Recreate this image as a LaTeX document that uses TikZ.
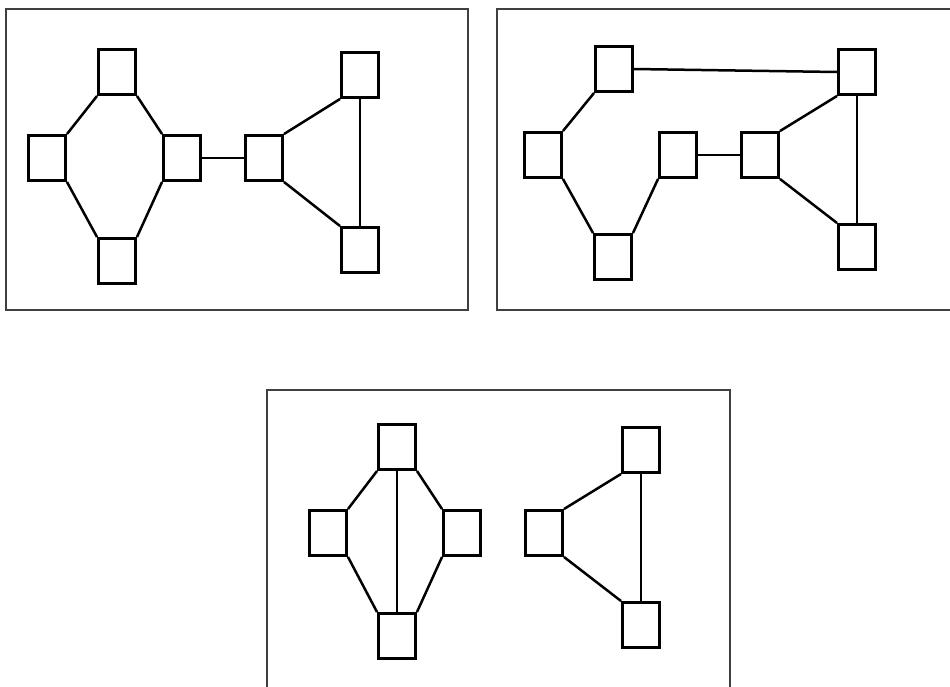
\documentclass[tikz,border=0pt]{standalone}
\begin{document}
\begin{tikzpicture}[x=1pt,y=-1pt,
  box/.style={draw=black,line width=2.9pt,rectangle,minimum width=37pt,minimum height=45pt,inner sep=0pt,fill=white},
  link/.style={draw=black,line width=2.5pt},
  frame/.style={draw=black!75,line width=2pt}]
\useasboundingbox (0,0) rectangle (950,686);
% frames
\draw[frame] (6,9) rectangle (468,310);
\draw[frame] (497,9) rectangle (956,310);
\draw[frame] (267,390) rectangle (730,692);
% panel 1
\node[box] (a1) at (117,72) {};
\node[box] (a2) at (47,158) {};
\node[box] (a3) at (182,158) {};
\node[box] (a4) at (117,261) {};
\node[box] (a5) at (264,158) {};
\node[box] (a6) at (360,75) {};
\node[box] (a7) at (360,250) {};
\draw[link] (a1.south west) -- (a2.north east);
\draw[link] (a1.south east) -- (a3.north west);
\draw[link] (a2.south east) -- (a4.north west);
\draw[link] (a3.south west) -- (a4.north east);
\draw[link] (a3.east) -- (a5.west);
\draw[link] (a5.north east) -- (a6.south west);
\draw[link] (a5.south east) -- (a7.north west);
\draw[link] (a6.south) -- (a7.north);
% panel 2
\node[box] (b1) at (614,69) {};
\node[box] (b2) at (543,155) {};
\node[box] (b3) at (613,257) {};
\node[box] (b4) at (678,155) {};
\node[box] (b5) at (760,155) {};
\node[box] (b6) at (857,72) {};
\node[box] (b7) at (857,247) {};
\draw[link] (b1.east) -- (b6.west);
\draw[link] (b1.south west) -- (b2.north east);
\draw[link] (b2.south east) -- (b3.north west);
\draw[link] (b3.north east) -- (b4.south west);
\draw[link] (b4.east) -- (b5.west);
\draw[link] (b5.north east) -- (b6.south west);
\draw[link] (b5.south east) -- (b7.north west);
\draw[link] (b6.south) -- (b7.north);
% panel 3
\node[box] (c1) at (397,447) {};
\node[box] (c2) at (328,533) {};
\node[box] (c3) at (462,533) {};
\node[box] (c4) at (397,636) {};
\node[box] (c5) at (544,533) {};
\node[box] (c6) at (641,450) {};
\node[box] (c7) at (641,625) {};
\draw[link] (c1.south west) -- (c2.north east);
\draw[link] (c1.south east) -- (c3.north west);
\draw[link] (c2.south east) -- (c4.north west);
\draw[link] (c3.south west) -- (c4.north east);
\draw[link] (c1.south) -- (c4.north);
\draw[link] (c5.north east) -- (c6.south west);
\draw[link] (c5.south east) -- (c7.north west);
\draw[link] (c6.south) -- (c7.north);
\end{tikzpicture}
\end{document}
